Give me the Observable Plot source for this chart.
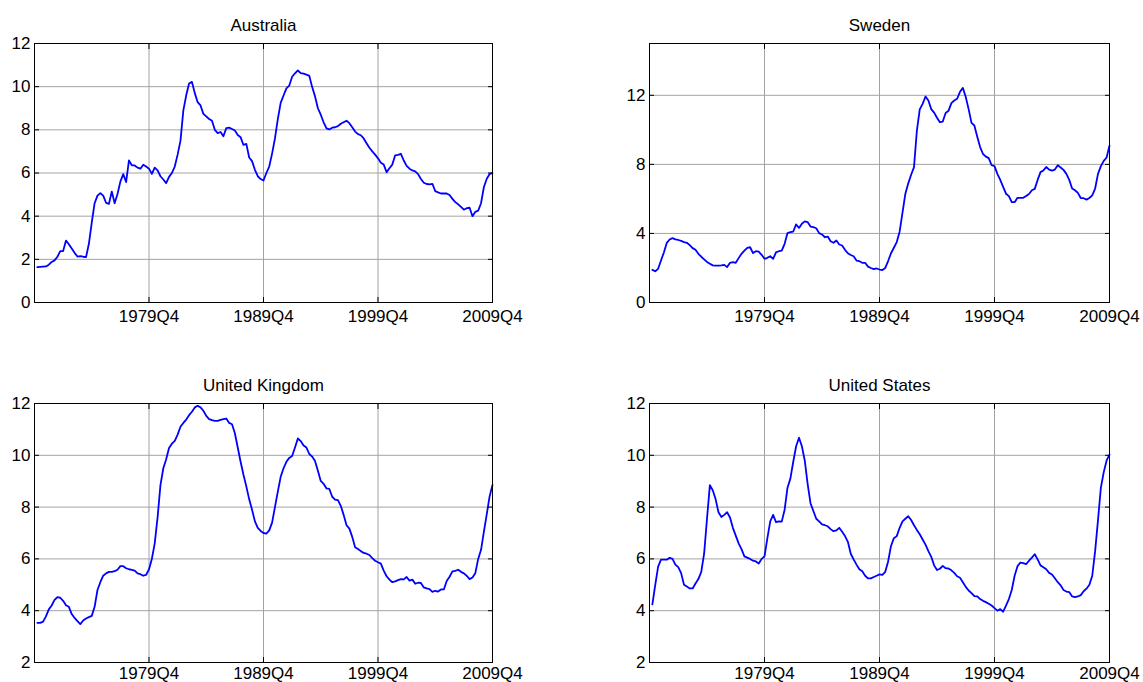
<!DOCTYPE html>
<html>
<head>
<meta charset="utf-8">
<script src="https://cdn.jsdelivr.net/npm/d3@7"></script>
<script src="https://cdn.jsdelivr.net/npm/@observablehq/plot@0.6"></script>
<style>
  html, body { margin: 0; padding: 0; background: #fff; }
  #fig { position: relative; width: 1143px; height: 682px; overflow: hidden; background: #fff; }
  #fig svg { position: absolute; overflow: visible; }
</style>
</head>
<body>
<div id="fig"></div>
<script>
// Quarterly unemployment rates (%), 1970Q1 to 2009Q4, one row per year.
const firstYear = 1970;
const quarterTicks = ["1979Q4", "1989Q4", "1999Q4", "2009Q4"];

const australia = [
  1.64, 1.65, 1.66, 1.67,   1.75, 1.88, 1.95, 2.12,   2.38, 2.38, 2.87, 2.70,   2.50, 2.30, 2.13, 2.15,
  2.12, 2.10, 2.72, 3.70,   4.60, 4.95, 5.07, 4.95,   4.62, 4.57, 5.14, 4.60,   5.03, 5.60, 5.95, 5.58,
  6.58, 6.36, 6.35, 6.25,   6.20, 6.38, 6.30, 6.20,   5.96, 6.25, 6.12, 5.85,   5.70, 5.53, 5.82, 6.00,
  6.30, 6.85, 7.50, 8.90,   9.60, 10.15, 10.22, 9.70, 9.28, 9.13, 8.74, 8.62,   8.50, 8.42, 8.00, 7.85,
  7.90, 7.70, 8.08, 8.10,   8.04, 7.97, 7.76, 7.66,   7.30, 7.35, 6.72, 6.55,   6.15, 5.85, 5.72, 5.65,
  6.00, 6.30, 6.90, 7.60,   8.50, 9.25, 9.59, 9.92,   10.05, 10.46, 10.62, 10.75, 10.63, 10.60, 10.56, 10.50,
  9.98, 9.55, 9.00, 8.70,   8.35, 8.07, 8.02, 8.10,   8.12, 8.17, 8.28, 8.35,   8.42, 8.31, 8.12, 7.92,
  7.80, 7.75, 7.60, 7.38,   7.17, 7.00, 6.85, 6.68,   6.48, 6.39, 6.04, 6.22,   6.39, 6.82, 6.84, 6.89,
  6.58, 6.33, 6.20, 6.12,   6.08, 5.95, 5.72, 5.55,   5.49, 5.47, 5.50, 5.16,   5.10, 5.05, 5.05, 5.05,
  4.98, 4.80, 4.65, 4.55,   4.43, 4.30, 4.37, 4.39,   4.00, 4.20, 4.26, 4.60,   5.35, 5.73, 5.95, 6.00
];

const sweden = [
  1.89, 1.81, 1.95, 2.43,   2.90, 3.45, 3.65, 3.73,   3.66, 3.62, 3.57, 3.50,   3.46, 3.32, 3.15, 3.05,
  2.82, 2.65, 2.50, 2.35,   2.25, 2.15, 2.14, 2.14,   2.15, 2.18, 2.05, 2.30,   2.34, 2.30, 2.57, 2.82,
  3.00, 3.17, 3.20, 2.86,   2.97, 2.95, 2.76, 2.53,   2.59, 2.68, 2.53, 2.90,   2.97, 3.01, 3.40, 4.02,
  4.07, 4.11, 4.52, 4.32,   4.56, 4.70, 4.66, 4.40,   4.36, 4.30, 4.02, 3.94,   3.78, 3.82, 3.55, 3.46,
  3.59, 3.36, 3.30, 3.05,   2.85, 2.75, 2.68, 2.43,   2.39, 2.30, 2.30, 2.08,   2.00, 1.93, 1.97, 1.91,
  1.88, 2.00, 2.40, 2.85,   3.17, 3.50, 4.10, 5.20,   6.30, 6.90, 7.40, 7.84,   9.96, 11.18, 11.50, 11.93,
  11.70, 11.20, 11.00, 10.70, 10.44, 10.48, 10.98, 11.10, 11.55, 11.70, 11.80, 12.20, 12.43, 11.90, 11.20, 10.40,
  10.25, 9.60, 9.00, 8.60,  8.45, 8.36, 7.95, 7.90,   7.45, 7.10, 6.70, 6.30,   6.16, 5.81, 5.81, 6.06,
  6.06, 6.06, 6.17, 6.28,   6.50, 6.58, 7.10, 7.55,   7.65, 7.85, 7.70, 7.64,   7.70, 7.95, 7.82, 7.68,
  7.45, 7.10, 6.60, 6.50,   6.35, 6.05, 6.04, 5.96,   6.05, 6.20, 6.60, 7.45,   7.90, 8.20, 8.40, 9.09
];

const unitedKingdom = [
  3.53, 3.53, 3.58, 3.78,   4.05, 4.20, 4.42, 4.52,   4.50, 4.38, 4.21, 4.15,   3.87, 3.72, 3.60, 3.48,
  3.62, 3.70, 3.75, 3.80,   4.15, 4.80, 5.10, 5.35,   5.44, 5.50, 5.50, 5.53,   5.58, 5.72, 5.72, 5.64,
  5.60, 5.58, 5.55, 5.44,   5.41, 5.35, 5.38, 5.60,   6.00, 6.60, 7.60, 8.85,   9.50, 9.85, 10.28, 10.45,
  10.56, 10.80, 11.10, 11.25, 11.38, 11.55, 11.68, 11.85, 11.91, 11.85, 11.72, 11.52, 11.40, 11.36, 11.33, 11.33,
  11.37, 11.40, 11.42, 11.25, 11.20, 10.85, 10.30, 9.75, 9.25, 8.80, 8.30, 7.90,   7.45, 7.20, 7.08, 7.00,
  6.98, 7.10, 7.40, 8.00,   8.60, 9.17, 9.50, 9.75,   9.90, 9.97, 10.30, 10.65,  10.55, 10.38, 10.30, 10.05,
  9.95, 9.78, 9.40, 9.01,   8.90, 8.72, 8.70, 8.40,   8.29, 8.27, 8.05, 7.70,   7.30, 7.17, 6.85, 6.45,
  6.38, 6.30, 6.23, 6.20,   6.15, 6.03, 5.93, 5.87,   5.82, 5.55, 5.33, 5.20,   5.10, 5.13, 5.18, 5.22,
  5.21, 5.30, 5.16, 5.20,   5.04, 5.08, 5.07, 4.90,   4.86, 4.83, 4.73, 4.77,   4.74, 4.82, 4.82, 5.15,
  5.31, 5.52, 5.54, 5.58,   5.50, 5.44, 5.35, 5.22,   5.28, 5.45, 6.00, 6.35,   7.05, 7.73, 8.42, 8.85
];

const unitedStates = [
  4.24, 5.00, 5.70, 5.97,   5.97, 5.97, 6.04, 6.00,   5.78, 5.68, 5.45, 5.00,   4.93, 4.86, 4.86, 5.05,
  5.22, 5.50, 6.20, 7.55,   8.85, 8.65, 8.30, 7.80,   7.62, 7.70, 7.80, 7.60,   7.20, 6.90, 6.60, 6.38,
  6.10, 6.05, 6.00, 5.93,   5.90, 5.82, 6.00, 6.10,   6.80, 7.45, 7.70, 7.42,   7.45, 7.44, 7.90, 8.75,
  9.10, 9.75, 10.35, 10.68, 10.35, 9.80, 8.90, 8.15,  7.85, 7.55, 7.45, 7.33,   7.30, 7.26, 7.15, 7.07,
  7.10, 7.20, 7.05, 6.88,   6.66, 6.20, 5.98, 5.78,   5.60, 5.52, 5.35, 5.25,   5.25, 5.30, 5.35, 5.40,
  5.38, 5.50, 5.90, 6.50,   6.80, 6.88, 7.20, 7.45,   7.55, 7.65, 7.50, 7.30,   7.12, 6.95, 6.75, 6.55,
  6.30, 6.08, 5.75, 5.57,   5.62, 5.73, 5.64, 5.63,   5.56, 5.46, 5.33, 5.27,   5.10, 4.92, 4.78, 4.68,
  4.56, 4.55, 4.45, 4.38,   4.33, 4.27, 4.20, 4.10,   4.00, 4.06, 3.96, 4.20,   4.45, 4.80, 5.35, 5.72,
  5.86, 5.84, 5.80, 5.93,   6.05, 6.18, 5.98, 5.75,   5.68, 5.60, 5.46, 5.40,   5.25, 5.10, 4.98, 4.80,
  4.74, 4.72, 4.55, 4.52,   4.55, 4.60, 4.75, 4.85,   5.00, 5.35, 6.30, 7.50,   8.75, 9.35, 9.80, 10.03
];

const panelTitles = ["Australia", "Sweden", "United Kingdom", "United States"];
const panelSeries = [australia, sweden, unitedKingdom, unitedStates];
const panelYDomains = [[0, 12], [0, 15], [2, 12], [2, 12]];
const panelYTicks = [[0, 2, 4, 6, 8, 10, 12], [0, 4, 8, 12], [2, 4, 6, 8, 10, 12], [2, 4, 6, 8, 10, 12]];

// Page layout of the 2x2 grid (SVG box, plot margins and x-label padding per panel).
const layout = [
  {left: 0,   top: 0,   width: 560, height: 341, mL: 34, mR: 68, mT: 43, mB: 39, xPad: 7},
  {left: 560, top: 0,   width: 583, height: 341, mL: 89, mR: 34, mT: 43, mB: 39, xPad: 7},
  {left: 0,   top: 341, width: 560, height: 341, mL: 34, mR: 68, mT: 62, mB: 20, xPad: 4},
  {left: 560, top: 341, width: 583, height: 341, mL: 89, mR: 34, mT: 62, mB: 20, xPad: 4}
];

const font = "'Liberation Sans', Arial, Helvetica, sans-serif";
const gridColor = "#a3a3a3";
const lineColor = "#0000ff";

// Position of a "YYYYQn" label on the fractional-year axis.
const quarterToYear = s => +s.slice(0, 4) + (+s.slice(5) - 1) / 4;
const xTickValues = quarterTicks.map(quarterToYear);
const xTickLabel = new Map(xTickValues.map((v, i) => [v, quarterTicks[i]]));

const fig = document.getElementById("fig");

panelSeries.forEach((series, k) => {
  const box = layout[k];
  const rows = series.map((v, i) => ({year: firstYear + i / 4, rate: v}));
  const yTicks = panelYTicks[k];
  const blank = () => "";

  const chart = Plot.plot({
    width: box.width,
    height: box.height,
    marginLeft: box.mL,
    marginRight: box.mR,
    marginTop: box.mT,
    marginBottom: box.mB,
    style: {fontFamily: font, fontSize: "17px", color: "#000", background: "transparent", overflow: "visible"},
    x: {domain: [firstYear - 0.25, firstYear + (series.length - 1) / 4], axis: null, label: null},
    y: {domain: panelYDomains[k], axis: null, label: null},
    marks: [
      Plot.gridX(xTickValues, {stroke: gridColor, strokeOpacity: 1, strokeWidth: 1}),
      Plot.gridY(yTicks, {stroke: gridColor, strokeOpacity: 1, strokeWidth: 1}),
      Plot.lineY(rows, {x: "year", y: "rate", stroke: lineColor, strokeWidth: 1.8}),
      Plot.frame({stroke: "#000", strokeWidth: 1}),
      // inward tick marks on all four sides
      Plot.axisX(xTickValues, {anchor: "bottom", tickSize: 5, dy: -5, tickFormat: blank, label: null}),
      Plot.axisX(xTickValues, {anchor: "top", tickSize: 5, dy: 5, tickFormat: blank, label: null}),
      Plot.axisY(yTicks, {anchor: "left", tickSize: 5, dx: 5, tickFormat: blank, label: null}),
      Plot.axisY(yTicks, {anchor: "right", tickSize: 5, dx: -5, tickFormat: blank, label: null}),
      // tick labels
      Plot.axisX(xTickValues, {anchor: "bottom", tickSize: 0, tickPadding: box.xPad, tickFormat: d => xTickLabel.get(d), label: null, fontSize: 17}),
      Plot.axisY(yTicks, {anchor: "left", tickSize: 0, tickPadding: 4, label: null, fontSize: 17}),
      // panel title
      Plot.text([panelTitles[k]], {frameAnchor: "top", dy: -13, lineAnchor: "bottom", fontSize: 17, fill: "#000"})
    ]
  });
  chart.style.left = box.left + "px";
  chart.style.top = box.top + "px";
  fig.appendChild(chart);
});
</script>
</body>
</html>
